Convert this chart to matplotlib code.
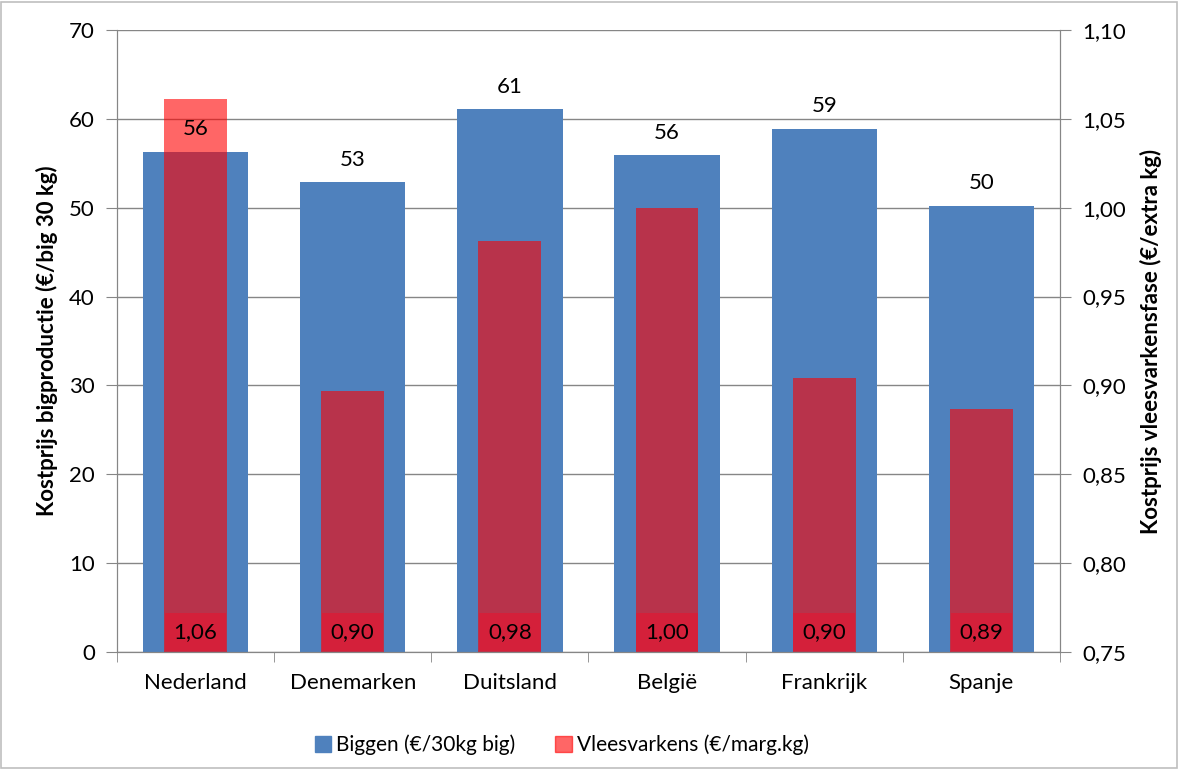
import matplotlib.pyplot as plt
import numpy as np
from matplotlib.patches import Rectangle

plt.rcParams['font.family'] = ['Lato', 'DejaVu Sans']

landen = ['Nederland', 'Denemarken', 'Duitsland', 'België', 'Frankrijk', 'Spanje']
biggen = [56.3, 52.9, 61.1, 55.9, 58.9, 50.2]
biggen_labels = ['56', '53', '61', '56', '59', '50']
vleesvarkens = [1.061, 0.897, 0.981, 1.000, 0.904, 0.887]
vlees_labels = ['1,06', '0,90', '0,98', '1,00', '0,90', '0,89']

blauw = '#4F81BD'
rood = '#FF0000'
grijs = '#868686'

fig = plt.figure(figsize=(11.78, 7.69), dpi=100)
fig.patches.append(Rectangle((0.001, 0.001), 0.998, 0.997, transform=fig.transFigure,
                             fill=False, edgecolor='#BFBFBF', linewidth=1.2))
ax = fig.add_axes([0.0993, 0.1521, 0.8005, 0.8089])
ax2 = ax.twinx()

x = np.arange(len(landen))
ax.bar(x, biggen, width=0.67, color=blauw, zorder=2)
ax.set_ylim(0, 70)
ax.set_yticks(range(0, 71, 10))
ax.set_xlim(-0.5, len(landen) - 0.5)
ax.yaxis.grid(True, color=grijs, linewidth=1)
ax.set_axisbelow(True)

ax2.bar(x, np.array(vleesvarkens) - 0.75, bottom=0.75, width=0.40, color=rood, alpha=0.6, zorder=3)
ax2.set_ylim(0.75, 1.10)
ax2.set_yticks(np.arange(0.75, 1.101, 0.05))
ax2.set_yticklabels([f'{t:.2f}'.replace('.', ',') for t in np.arange(0.75, 1.101, 0.05)])

# labels van de biggen boven de balken (op ax2 zodat ze boven het rood liggen)
for xi, v, lab in zip(x, biggen, biggen_labels):
    ax2.text(xi, v + 1.4, lab, ha='center', va='bottom', fontsize=16, zorder=7,
             transform=ax.transData)
for xi, lab in zip(x, vlees_labels):
    ax2.text(xi, 0.7555, lab, ha='center', va='bottom', fontsize=16, zorder=6,
             bbox=dict(boxstyle='square,pad=0.4', facecolor='#D4203A', edgecolor='none'))

ax.set_xticks(x)
ax.set_xticklabels(landen, fontsize=16)
ax.tick_params(axis='x', length=0, pad=15)
ax.set_xticks(np.arange(-0.5, len(landen)), minor=True)
ax.tick_params(axis='x', which='minor', length=7, color=grijs)
ax.tick_params(axis='y', labelsize=16, length=8, color=grijs, pad=8)
ax2.tick_params(axis='y', labelsize=16, length=8, color=grijs, pad=8)

for a in (ax, ax2):
    a.spines['top'].set_visible(False)
    for s in ('left', 'right', 'bottom'):
        a.spines[s].set_color(grijs)

ax.set_ylabel('Kostprijs bigproductie (€/big 30 kg)', fontsize=16, fontweight='bold', labelpad=8)
ax2.set_ylabel('Kostprijs vleesvarkensfase (€/extra kg)', fontsize=16, fontweight='bold',
               rotation=90, labelpad=10)

handles = [Rectangle((0, 0), 1, 1, color=blauw), Rectangle((0, 0), 1, 1, color=rood, alpha=0.6)]
fig.legend(handles, ['Biggen (€/30kg big)', 'Vleesvarkens (€/marg.kg)'], loc='center',
           bbox_to_anchor=(0.477, 0.031), ncol=2, frameon=False, fontsize=15,
           handlelength=0.8, handleheight=0.8, columnspacing=1.9, handletextpad=0.25)

fig.savefig('out.png', dpi=100)
